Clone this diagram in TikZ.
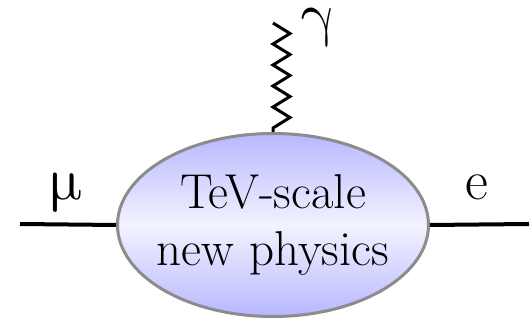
\documentclass[tikz,border=0pt]{standalone}
\usepackage{unicode-math}
\usepackage{tikz}
\usetikzlibrary{shapes.geometric}

\begin{document}
\begin{tikzpicture}[x=0.5pt, y=-0.5pt,
    blob/.style  ={ellipse, draw=gray!90, line width=1.5pt, top color=blue!28, bottom color=blue!28, middle color=blue!5,
                   minimum width=155.5pt, minimum height=91.5pt, inner sep=0pt},
    blobtext/.style={align=center, inner sep=0pt, font=\fontsize{24.5}{28.5}\selectfont},
    lepton/.style={line width=2pt, black},
    photon/.style={line width=1.5pt, black, line join=miter},
    plabel/.style={anchor=base, inner sep=0pt, text height=0.5em, font=\fontsize{30}{32}\selectfont}]
    \useasboundingbox (0,0) rectangle (531,320);
    % blob
    \node[blob] (np) at (273,225) {};
    \node[blobtext] (nptext) at (np.center) {TeV-scale\\new physics};
    % external legs
    \coordinate (muin) at (20,224);
    \coordinate (eout) at (529,224);
    \draw[lepton] (muin) -- (np.west);
    \draw[lepton] (np.east) -- (eout);
    \draw[photon] (np.north) -- ++(0,-4) \foreach \k in {1,...,5} { -- ++(17,-10.5) -- ++(-17,-10.5) };
    % labels
    \node[plabel] (mu) at (66,200) {$\upmu$};
    \node[plabel, font=\fontsize{28}{30}\selectfont] (el) at (477,200) {e};
    \node[plabel] (ga) at (318,35) {$\upgamma$};
\end{tikzpicture}
\end{document}
